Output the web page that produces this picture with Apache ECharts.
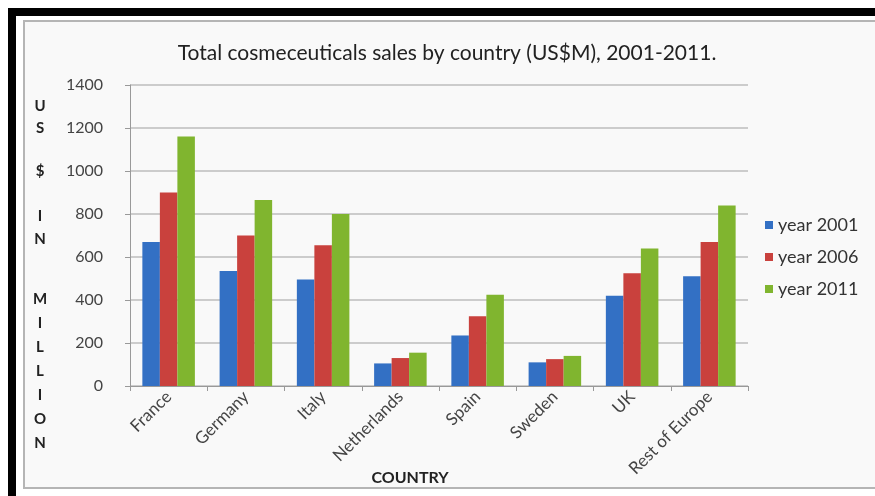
<!DOCTYPE html>
<html>
<head>
<meta charset="utf-8">
<script src="https://cdn.jsdelivr.net/npm/echarts@6/dist/echarts.min.js"></script>
<style>
  html, body { margin: 0; padding: 0; background: #fff; }
  #chart { width: 875px; height: 496px; }
</style>
</head>
<body>
<div id="chart"></div>
<script>
const countries = ['France', 'Germany', 'Italy', 'Netherlands', 'Spain', 'Sweden', 'UK', 'Rest of Europe'];
const year2001 = [670, 535, 495, 105, 235, 110, 420, 510];
const year2006 = [900, 700, 655, 130, 325, 125, 525, 670];
const year2011 = [1160, 865, 800, 155, 425, 140, 640, 840];
const yTicks = [0, 200, 400, 600, 800, 1000, 1200, 1400];

const font = 'Lato, "Open Sans", sans-serif';

// vertical axis title, one letter per row
const yLetters = ['U', 'S', '$', 'I', 'N', 'M', 'I', 'L', 'L', 'I', 'O', 'N'];
const yLetterRows = [106, 128, 171, 216, 239, 299, 323, 347, 371, 395, 419, 443];

const chart = echarts.init(document.getElementById('chart'));

chart.setOption({
    backgroundColor: '#fff',
    animation: false,
    title: {
        text: 'Total cosmeceuticals sales by country (US$M), 2001-2011.',
        left: 442,
        top: 38,
        textAlign: 'center',
        textStyle: {
            fontFamily: font,
            fontWeight: 'normal',
            fontSize: 21,
            color: '#222'
        }
    },
    legend: {
        orient: 'vertical',
        left: 760,
        top: 211,
        itemWidth: 8,
        itemHeight: 8,
        itemGap: 14,
        icon: 'rect',
        textStyle: {
            fontFamily: font,
            fontSize: 18,
            color: '#333'
        },
        data: ['year 2001', 'year 2006', 'year 2011']
    },
    grid: {
        left: 130,
        right: 127,
        top: 85,
        bottom: 110
    },
    graphic: [
        {
            type: 'rect',
            shape: {x: 8, y: 8, width: 867, height: 8},
            style: {fill: '#000'},
            z: -10
        },
        {
            type: 'rect',
            shape: {x: 8, y: 8, width: 8, height: 488},
            style: {fill: '#000'},
            z: -10
        },
        {
            type: 'rect',
            shape: {x: 24, y: 21, width: 860, height: 467},
            style: {fill: '#f9f9f9', stroke: '#b5b5b5', lineWidth: 2},
            z: -10
        },
        {
            type: 'text',
            x: 410,
            y: 478,
            style: {
                text: 'COUNTRY',
                fontFamily: font,
                fontWeight: 'bold',
                fontSize: 16,
                fill: '#222',
                align: 'center',
                verticalAlign: 'middle'
            }
        }
    ].concat(yLetters.map((ch, i) => ({
        type: 'text',
        x: 40,
        y: yLetterRows[i],
        style: {
            text: ch,
            fontFamily: font,
            fontWeight: 'bold',
            fontSize: 15,
            fill: '#222',
            align: 'center',
            verticalAlign: 'middle'
        }
    }))),
    xAxis: {
        type: 'category',
        data: countries,
        axisLine: {lineStyle: {color: '#999'}},
        axisTick: {show: true, length: 5, lineStyle: {color: '#999'}},
        axisLabel: {
            interval: 0,
            rotate: 45,
            margin: 8,
            fontFamily: font,
            fontSize: 17,
            color: '#444'
        }
    },
    yAxis: {
        type: 'value',
        min: 0,
        max: yTicks[yTicks.length - 1],
        interval: 200,
        axisLine: {show: true, lineStyle: {color: '#999'}},
        axisTick: {show: true, inside: false, length: 5, lineStyle: {color: '#999'}},
        axisLabel: {
            margin: 27,
            fontFamily: font,
            fontSize: 16,
            color: '#444',
            formatter: v => String(v)
        },
        splitLine: {lineStyle: {color: '#bdbdbd', width: 1.5}}
    },
    series: [
        {
            name: 'year 2001',
            type: 'bar',
            barGap: '0%',
            barCategoryGap: '32%',
            itemStyle: {color: '#3370c4'},
            data: year2001
        },
        {
            name: 'year 2006',
            type: 'bar',
            barGap: '0%',
            barCategoryGap: '32%',
            itemStyle: {color: '#c9413d'},
            data: year2006
        },
        {
            name: 'year 2011',
            type: 'bar',
            barGap: '0%',
            barCategoryGap: '32%',
            itemStyle: {color: '#80b52f'},
            data: year2011
        }
    ]
});
</script>
</body>
</html>
